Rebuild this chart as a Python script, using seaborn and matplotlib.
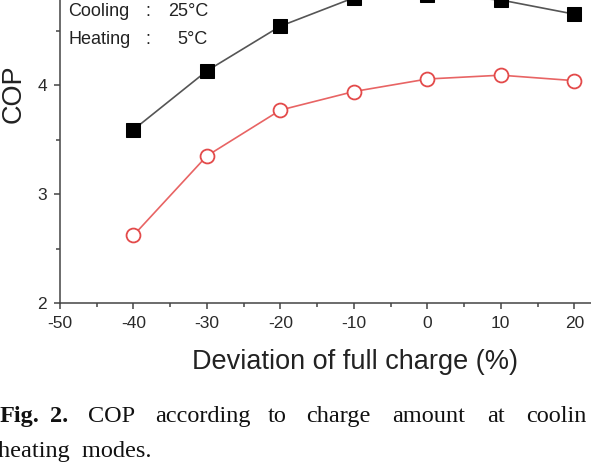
import matplotlib
matplotlib.use("Agg")
import matplotlib.pyplot as plt
import seaborn as sns
import pandas as pd

# values
deviation = [-40, -30, -20, -10, 0, 10, 20]
cop_cooling = [3.59, 4.13, 4.54, 4.80, 4.83, 4.78, 4.65]
cop_heating = [2.62, 3.35, 3.77, 3.94, 4.055, 4.09, 4.04]

x_ticks = [-50, -40, -30, -20, -10, 0, 10, 20]
y_ticks = [2, 3, 4]

conditions = [("Cooling", "25°C"), ("Heating", "5°C")]

caption_words = ["COP", "according", "to", "charge", "amount", "at", "coolin"]
caption_pos = [88, 155, 268, 306, 392, 487, 526]

sns.set_style("ticks")
plt.rcParams["font.family"] = ["Liberation Sans", "DejaVu Sans"]
plt.rcParams["axes.unicode_minus"] = False

W, H = 591, 474
fig = plt.figure(figsize=(W / 100, H / 100), dpi=100)

# axes reach past the top and right edge, the reference is cropped there
ax = fig.add_axes([60 / W, (H - 303) / H, 551 / W, 327 / H])

df = pd.DataFrame({"dev": deviation, "cool": cop_cooling, "heat": cop_heating})

sns.lineplot(data=df, x="dev", y="cool", ax=ax, color="#555555", lw=1.2,
             marker="s", markersize=10, markerfacecolor="black",
             markeredgecolor="black")
sns.lineplot(data=df, x="dev", y="heat", ax=ax, color="#e86464", lw=1.2,
             marker="o", markersize=10, markerfacecolor="white",
             markeredgecolor="#e34a4a", markeredgewidth=1.3)

ax.set_xlim(-50, 25)
ax.set_ylim(2, 5)
ax.set_xticks(x_ticks)
ax.set_yticks(y_ticks)
ax.set_xticks([v + 5 for v in x_ticks], minor=True)
ax.set_yticks([2.5, 3.5, 4.5], minor=True)
ax.tick_params(which="major", length=4.5, width=1.1, color="#444444",
               labelsize=12.5, labelcolor="#2a2a2a", pad=5)
ax.tick_params(which="minor", length=3, width=1.1, color="#444444")

for s in ["top", "right"]:
    ax.spines[s].set_visible(False)
for s in ["left", "bottom"]:
    ax.spines[s].set_color("#444444")
    ax.spines[s].set_linewidth(1.1)

ax.set_xlabel("Deviation of full charge (%)", fontsize=19.5, color="#222222")
ax.xaxis.set_label_coords((355 - 60) / 551, -(349 - 303) / 327)
ax.set_ylabel("COP", fontsize=19.5, color="#222222", va="center")
ax.yaxis.set_label_coords(-(60 - 14) / 551, (303 - 94) / 327)

# condition box text
for i, (name, temp) in enumerate(conditions):
    yy = 1 - (12 + 28 * i) / H
    fig.text(68 / W, yy, name, fontsize=13, va="center", color="#222222")
    fig.text(145 / W, yy, ":", fontsize=13, va="center", color="#222222")
    fig.text(208 / W, yy, temp, fontsize=13, va="center", ha="right",
             color="#222222")

# figure caption below the plot
cap = dict(family="Liberation Serif", fontsize=17.5, color="#111111",
           va="baseline")
fig.text(0, 1 - 422 / H, "Fig.", fontweight="bold", **cap)
fig.text(50 / W, 1 - 422 / H, "2.", fontweight="bold", **cap)
for w, px in zip(caption_words, caption_pos):
    fig.text(px / W, 1 - 422 / H, w, **cap)
fig.text(-2 / W, 1 - 457 / H, "heating  modes.", **cap)

fig.savefig("out.png", dpi=100)
